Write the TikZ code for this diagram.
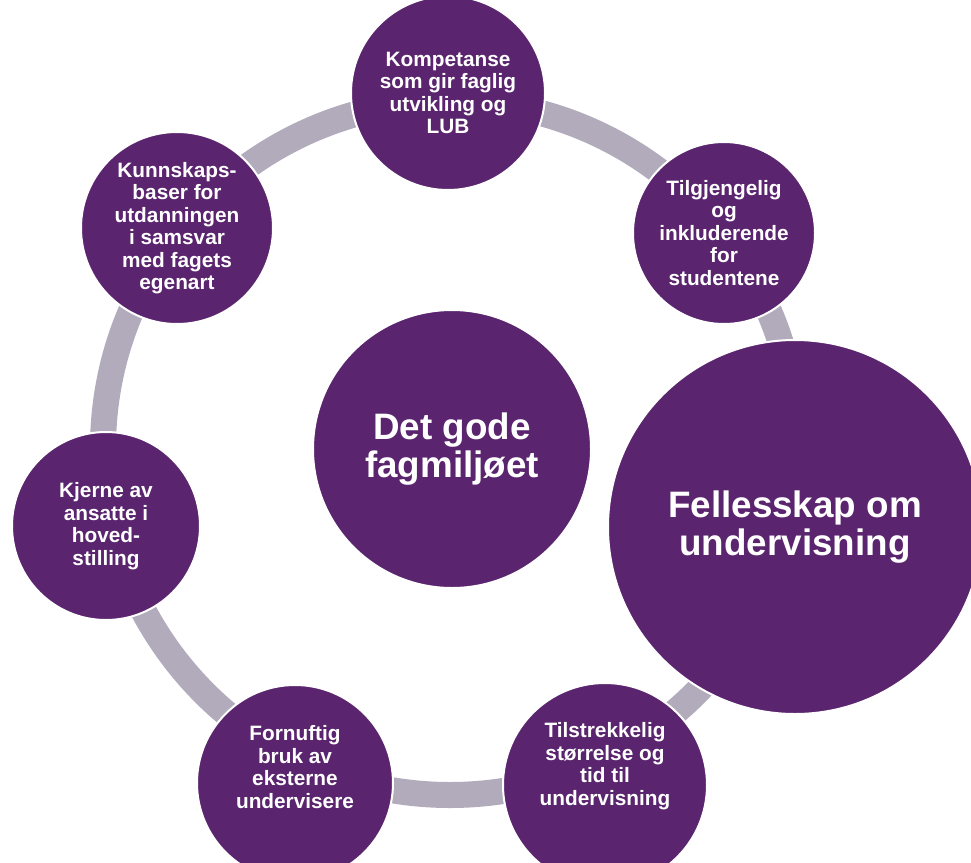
\documentclass[tikz,border=0pt]{standalone}
\usepackage{fontspec}
\setmainfont{Liberation Sans}
\usepackage{xcolor}
\usepackage{tikz}

\definecolor{fagpurple}{RGB}{90,37,110}
\definecolor{ringgray}{RGB}{178,171,188}

\tikzset{
  bubble/.style={circle, fill=fagpurple, draw=white, line width=2pt, inner sep=0pt, text=white, align=center},
  txt/.style={text=white, align=center, inner sep=0pt},
  small/.style={font=\fontsize{20.8}{22.5}\selectfont\bfseries},
  large/.style={font=\fontsize{36.8}{38.5}\selectfont\bfseries},
  ring/.style={draw=ringgray, line width=26pt}
}

\begin{document}
\begin{tikzpicture}[x=1pt, y=-1pt]

  \fill[white] (0,0) rectangle (971,862);
  \useasboundingbox (0,0) rectangle (971,862);

  \coordinate (mid) at (450,448);
  \draw[ring] (mid) circle[radius=347];

  \node[bubble, large, minimum size=278] (fag) at (452,449) {Det gode\\fagmilj\o et};

  \node[bubble, small, minimum size=194] (komp) at (448,93) {Kompetanse\\som gir faglig\\utvikling og\\LUB};
  \node[bubble, small, minimum size=182] (tilg) at (724,233) {Tilgjengelig\\og\\inkluderende\\for\\studentene};
  \node[bubble, large, minimum size=374] (fell) at (795,527) {Fellesskap om\\undervisning};

  \node[bubble, minimum size=204] (tid) at (605,785) {};
  \node[txt, small] (tidtxt) at (605,766) {Tilstrekkelig\\st\o rrelse og\\tid til\\undervisning};

  \node[bubble, minimum size=196] (forn) at (295,783) {};
  \node[txt, small] (forntxt) at (295,767) {Fornuftig\\bruk av\\eksterne\\undervisere};

  \node[bubble, small, minimum size=188] (kjer) at (106,526) {Kjerne av\\ansatte i\\hoved-\\stilling};
  \node[bubble, small, minimum size=192] (kunn) at (177,228) {Kunnskaps-\\baser for\\utdanningen\\i samsvar\\med fagets\\egenart};

\end{tikzpicture}
\end{document}
